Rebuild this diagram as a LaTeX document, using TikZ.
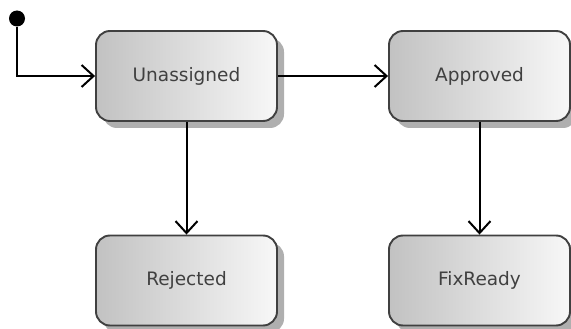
\documentclass[tikz,border=0pt]{standalone}
\usepackage{fontspec}
\setmainfont{DejaVu Sans}
\usepackage{tikz}
\usetikzlibrary{arrows.meta,positioning,shadows}
\definecolor{stateline}{HTML}{404040}
\tikzstyle{state}=[draw=stateline,line width=1.9pt,rounded corners=14pt,minimum width=181pt,minimum height=90pt,inner sep=0pt,left color=black!24,right color=black!3,text=stateline,font=\fontsize{18.5}{22}\selectfont,drop shadow={shadow xshift=7pt,shadow yshift=-7pt,fill=black!35,opacity=0.9}]
\tikzstyle{init}=[fill=black,circle,minimum size=16pt,inner sep=0pt]
\tikzstyle{trans}=[line width=2pt,-{Straight Barb[length=12pt,width=22pt,line width=2pt]}]

\begin{document}
\begin{tikzpicture}[x=1pt,y=1pt]
\useasboundingbox (0,0) rectangle (571,-329);
\node [init] (start) at (17,-18.5) {};
\node [state] (unassigned) at (186.5,-76) {Unassigned};
\node [state] (approved) at (479.5,-76) {Approved};
\node [state] (rejected) at (186.5,-280.5) {Rejected};
\node [state] (fixready) at (479.5,-280.5) {FixReady};

\draw [trans] (start) |- (unassigned.west);
\draw [trans] (unassigned) -- (approved);
\draw [trans] (unassigned) -- (rejected);
\draw [trans] (approved) -- (fixready);
\end{tikzpicture}
\end{document}
